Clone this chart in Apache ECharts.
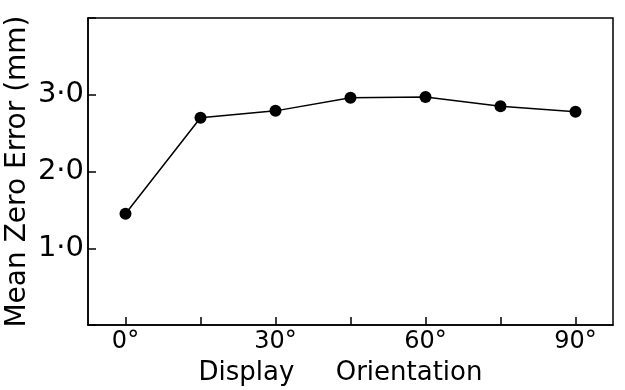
<!DOCTYPE html>
<html>
<head>
<meta charset="utf-8">
<script src="https://cdn.jsdelivr.net/npm/echarts@6/dist/echarts.min.js"></script>
<style>html,body{margin:0;padding:0;background:#fff;}#c{width:625px;height:390px;}</style>
</head>
<body>
<div id="c"></div>
<script>
const orientations = ["0°", "15°", "30°", "45°", "60°", "75°", "90°"];
const meanZeroError = [1.45, 2.70, 2.79, 2.96, 2.97, 2.85, 2.78];
const yTickValues = [1, 2, 3];
const yTickLabels = ["1·0", "2·0", "3·0"];
const xTitle = "Display     Orientation";
const yTitle = "Mean Zero Error (mm)";

const FONT = "DejaVu Sans";
const chart = echarts.init(document.getElementById('c'), null, {renderer: 'canvas'});
chart.setOption({
  backgroundColor: '#fff',
  animation: false,
  grid: {left: 88, right: 12, top: 18, bottom: 65, containLabel: false, outerBoundsMode: 'none', show: true, borderColor: '#000', borderWidth: 1.5, backgroundColor: 'transparent'},
  xAxis: {
    type: 'category',
    data: orientations,
    boundaryGap: true,
    axisLine: {show: true, lineStyle: {color: '#000', width: 1.5}},
    axisTick: {show: true, inside: true, length: 8, alignWithLabel: true, interval: 0, lineStyle: {color: '#000', width: 1.5}},
    axisLabel: {interval: 1, color: '#000', fontFamily: FONT, fontSize: 24, margin: 5},
    splitLine: {show: false},
    name: xTitle,
    nameLocation: 'middle',
    nameGap: 35,
    nameMoveOverlap: false,
    nameTextStyle: {color: '#000', fontFamily: FONT, fontSize: 26, padding: [0, 20, 0, 0]}
  },
  yAxis: {
    type: 'value',
    min: 0, max: 4, interval: 1,
    axisLine: {show: true, lineStyle: {color: '#000', width: 1.5}},
    axisTick: {show: true, inside: true, length: 8, lineStyle: {color: '#000', width: 1.5}},
    axisLabel: {
      color: '#000', fontFamily: FONT, fontSize: 29, margin: 4,
      formatter: function (v) { const i = yTickValues.indexOf(v); return i >= 0 ? yTickLabels[i] : ''; }
    },
    splitLine: {show: false},
    name: yTitle,
    nameLocation: 'middle',
    nameGap: 56,
    nameMoveOverlap: false,
    nameTextStyle: {color: '#000', fontFamily: FONT, fontSize: 28}
  },
  series: [{
    type: 'line',
    data: meanZeroError,
    symbol: 'circle',
    symbolSize: 12,
    itemStyle: {color: '#000'},
    lineStyle: {color: '#000', width: 1.5}
  }]
});
</script>
</body>
</html>
